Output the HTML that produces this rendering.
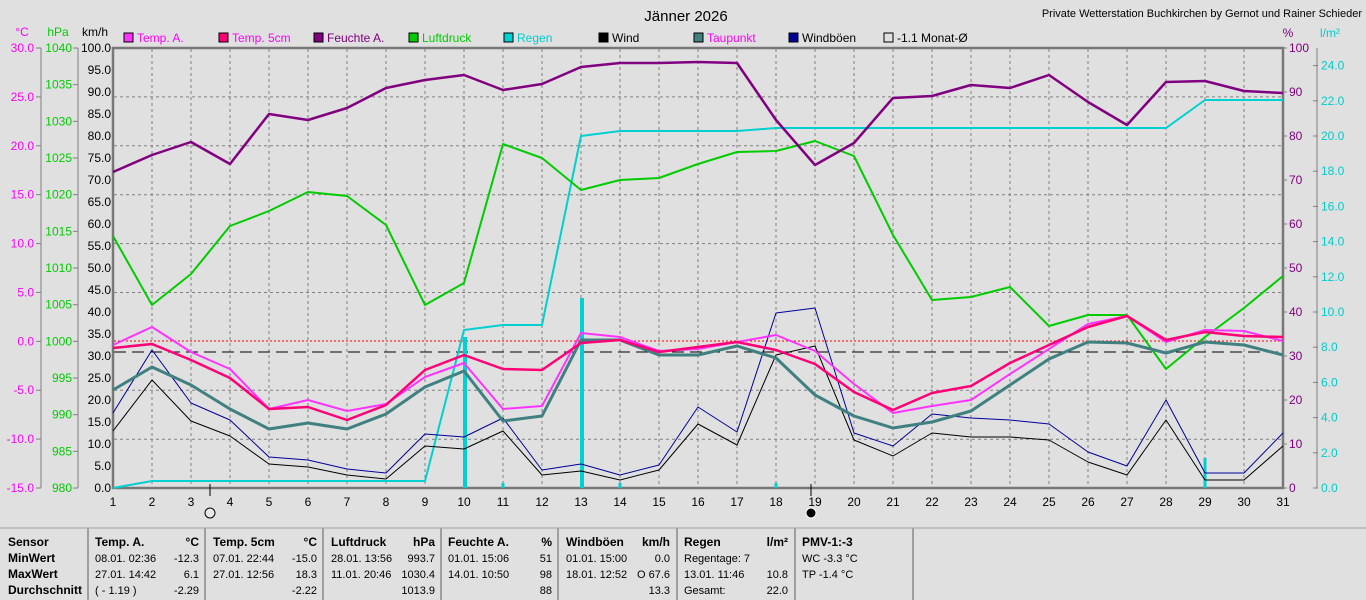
<!DOCTYPE html>
<html><head><meta charset="utf-8"><style>
html,body{margin:0;padding:0;background:#e0e0e0;}
svg{display:block;font-family:"Liberation Sans",Arial,sans-serif;}
</style></head><body>
<svg id="s" width="1366" height="600" xmlns="http://www.w3.org/2000/svg">
<rect width="1366" height="600" fill="#e0e0e0"/>
<text x="686" y="21" font-size="15" text-anchor="middle" fill="#000">Jänner 2026</text>
<text x="1362" y="17" font-size="11" text-anchor="end" fill="#000">Private Wetterstation Buchkirchen by Gernot und Rainer Schieder</text>
<g id="g"></g>
</svg>
<script>
var g=document.getElementById('g');var h='';
function X(d){return 113+39*(d-1);}
function L(x1,y1,x2,y2,c,w,da){h+='<line x1="'+x1+'" y1="'+y1+'" x2="'+x2+'" y2="'+y2+'" stroke="'+c+'" stroke-width="'+(w||1)+'"'+(da?' stroke-dasharray="'+da+'"':'')+'/>';}
function T(x,y,t,c,a,s,b){h+='<text x="'+x+'" y="'+y+'" fill="'+c+'" font-size="'+(s||12)+'" text-anchor="'+(a||'start')+'"'+(b?' font-weight="bold"':'')+'>'+t+'</text>';}
function P(ys,c,w,xs){var p=[];for(var i=0;i<ys.length;i++)p.push((xs?xs[i]:X(i+1))+','+ys[i]);h+='<polyline points="'+p.join(' ')+'" fill="none" stroke="'+c+'" stroke-width="'+w+'" stroke-linejoin="round"/>';}
for(var d=2;d<=30;d++)L(X(d),49,X(d),487,'#808080',1,'3,3');
for(var k=1;k<=8;k++){var y=48+k*48.9;if(k!=6)L(114,y,1282,y,'#808080',1,'3,3');}
L(114,341,1282,341,'#ff0000',1,'2,2');
L(114,352,1282,352,'#000',1,'12,6');
h+='<rect x="113" y="48" width="1170" height="440" fill="none" stroke="#787878" stroke-width="2.5"/>';
L(41,48,41,488,'#808080',1);L(78,48,78,488,'#808080',1);
T(22,36,'°C','#ff00ff','middle',12);T(58,36,'hPa','#00cc00','middle',12);T(95,36,'km/h','#000','middle',12);
for(var i=0;i<=9;i++){var y=48+i*48.89;L(36,y,41,y,'#808080');T(34,y+4,(30-5*i).toFixed(1),'#ff00ff','end',12);}
for(var i=0;i<=12;i++){var y=48+i*36.67;L(73,y,78,y,'#808080');T(72,y+4,1040-5*i,'#00cc00','end',12);}
for(var i=0;i<=20;i++){var y=48+i*22;T(111,y+4,(100-5*i).toFixed(1),'#000','end',12);}
T(1288,37,'%','#800080','middle',12);T(1330,37,'l/m²','#00cccc','middle',12);
for(var i=0;i<=10;i++){var y=48+i*44;L(1283,y,1287,y,'#808080');T(1289,y+4,100-10*i,'#800080','start',12);}
L(1317,48,1317,488,'#808080',1);
for(var i=0;i<=12;i++){var y=488-i*2*17.6;L(1313,y,1318,y,'#808080');T(1321,y+4,(2*i).toFixed(1),'#00cccc','start',12);}
for(var d=1;d<=31;d++)T(X(d),506,d,'#000','middle',12);
L(210,484,210,496,'#000',1);L(811,484,811,496,'#000',1);
h+='<circle cx="210" cy="513" r="5" fill="#e8e8e8" stroke="#000"/><circle cx="811" cy="513" r="5" fill="#000" stroke="#fff"/>';
var lg=[['Temp. A.','#ff00ff','#ff33ff'],['Temp. 5cm','#ff00ff','#ff0077'],['Feuchte A.','#800080','#800080'],['Luftdruck','#00cc00','#00cc00'],['Regen','#00cccc','#00d0d0'],['Wind','#000','#000'],['Taupunkt','#ff00ff','#408080'],['Windböen','#000','#000099'],['-1.1 Monat-Ø','#000','none']];
for(var i=0;i<lg.length;i++){var x=124+i*95;h+='<rect x="'+x+'" y="33" width="9" height="9" fill="'+lg[i][2]+'" stroke="#000"/>';T(x+13,42,lg[i][0],lg[i][1],'start',12);}
var rainX=[X(1),X(2),X(9),X(10),X(11),X(12),X(13),X(14),X(17),X(18),X(28),X(29),X(31)];
var rainY=[488,481,481,330,325,325,136,131,131,128,128,100,100];
P(rainY,'#00d0d0',2,rainX);
h+='<rect x="463" y="337" width="4" height="151" fill="#00d0d0"/><rect x="580" y="298" width="4" height="190" fill="#00d0d0"/>';
[11,14,18,29].forEach(function(d){h+='<rect x="'+(X(d)-1.5)+'" y="'+(d==29?458:483)+'" width="3" height="'+(d==29?30:5)+'" fill="#00d0d0"/>';});
P([236,305,274,226,211,192,196,225,305,283,144,158,190,180,178,164,152,151,141,156,235,300,297,287,326,315,315,369,337,308,276],'#00cc00',2);
P([172,155,142,164,114,120,108,88,80,75,90,84,67,63,63,62,63,120,165,143,98,96,85,88,75,102,125,82,81,91,93],'#800080',2.5);
P([431,380,421,436,464,467,475,479,446,449,431,475,471,480,470,424,445,355,346,440,456,433,437,437,440,462,475,420,480,480,446],'#000',1);
P([413,350,403,420,457,460,469,473,434,437,418,470,464,475,465,407,432,313,308,433,446,414,418,420,424,452,466,400,473,473,433],'#000099',1);
P([390,367,385,409,429,423,429,414,387,371,421,416,340,340,355,355,346,358,395,416,428,422,411,385,359,342,343,353,342,345,355],'#408080',3);
P([345,327,352,369,409,400,411,404,377,363,409,406,333,337,351,349,342,335,351,384,413,406,400,374,349,324,316,342,330,331,341],'#ff33ff',2);
P([348,344,360,378,409,407,420,405,370,355,369,370,343,340,352,347,342,350,364,392,410,393,386,363,345,327,316,340,332,336,337],'#ff0077',2.5);
L(0,528,1366,528,'#a0a0a0',1);
[88,205,323,441,558,677,795,913].forEach(function(x){L(x,528,x,600,'#a0a0a0',2);});
var ry=[546,562,578,594];
T(8,ry[0],'Sensor','#000','start',12,1);T(8,ry[1],'MinWert','#000','start',12,1);T(8,ry[2],'MaxWert','#000','start',12,1);T(8,ry[3],'Durchschnitt','#000','start',12,1);
function col(x0,x1,hd,un,r){T(x0,ry[0],hd,'#000','start',12,1);T(x1,ry[0],un,'#000','end',12,1);for(var i=0;i<3;i++){if(r[i][0])T(x0,ry[i+1],r[i][0],'#000','start',11);if(r[i][1])T(x1,ry[i+1],r[i][1],'#000','end',11);}}
col(95,199,'Temp. A.','°C',[['08.01.  02:36','-12.3'],['27.01.  14:42','6.1'],['  ( - 1.19 )','-2.29']]);
col(213,317,'Temp. 5cm','°C',[['07.01.  22:44','-15.0'],['27.01.  12:56','18.3'],['','-2.22']]);
col(331,435,'Luftdruck','hPa',[['28.01.  13:56','993.7'],['11.01.  20:46','1030.4'],['','1013.9']]);
col(448,552,'Feuchte A.','%',[['01.01.  15:06','51'],['14.01.  10:50','98'],['','88']]);
col(566,670,'Windböen','km/h',[['01.01.  15:00','0.0'],['18.01.  12:52','O 67.6'],['','13.3']]);
col(684,788,'Regen','l/m²',[['Regentage: 7',''],['13.01.  11:46','10.8'],['Gesamt:','22.0']]);
col(802,906,'PMV-1:-3','',[['WC -3.3 °C',''],['TP -1.4 °C',''],['','']]);
g.innerHTML=h;
</script>
</body></html>
